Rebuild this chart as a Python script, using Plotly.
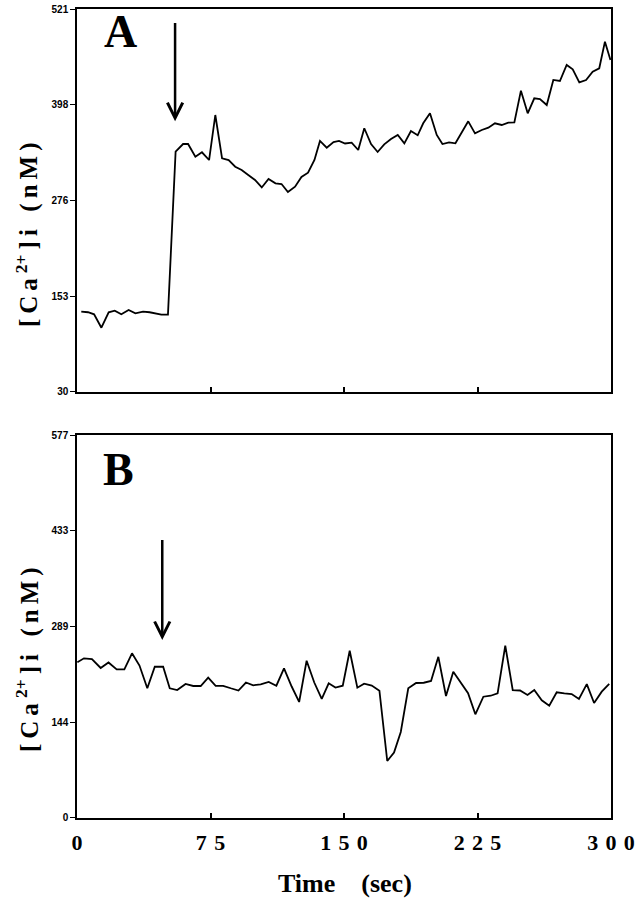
import plotly.graph_objects as go
from plotly.subplots import make_subplots

# ---------------- data ----------------
time_a = [2.4, 6.2, 9.6, 13.7, 17.8, 21.2, 24.9, 29.0, 32.8, 37.1, 40.8, 44.6, 47.4, 51.1,
          55.4, 59.6, 62.4, 66.5, 70.2, 74.2, 77.7, 81.5, 85.2, 88.9, 92.5, 96.2, 100.0,
          103.8, 107.6, 111.5, 114.9, 118.5, 122.5, 126.1, 129.8, 133.4, 136.5, 140.3,
          144.1, 147.2, 150.6, 154.3, 158.0, 161.4, 165.2, 168.9, 172.6, 176.4, 180.2,
          183.9, 187.6, 191.4, 194.5, 198.3, 202.1, 205.3, 209.0, 212.6, 216.1, 219.8,
          223.6, 227.4, 231.1, 234.8, 238.6, 242.3, 245.7, 249.4, 253.2, 256.9, 260.1,
          263.9, 267.6, 271.3, 275.1, 278.5, 282.2, 286.0, 289.7, 293.4, 296.6, 299.7]
ca_a = [132.9, 132.2, 129.6, 112.4, 132.2, 134.2, 129.6, 135.1, 130.9, 132.9, 132.2, 130.4,
        129.1, 129.1, 338.1, 347.9, 347.9, 331.6, 337.3, 327.4, 385.1, 329.6, 327.4, 318.8,
        314.6, 308.2, 301.8, 292.2, 303.1, 297.5, 296.6, 286.4, 293.2, 305.6, 311.1, 327.4,
        351.8, 343.2, 350.5, 351.8, 348.6, 349.6, 340.2, 368.1, 347.9, 337.7, 347.5, 354.3,
        359.5, 348.8, 364.6, 359.1, 374.5, 387.3, 359.5, 347.9, 349.9, 348.8, 362.9, 377.0,
        361.6, 365.9, 368.8, 374.5, 372.3, 375.2, 375.7, 416.3, 387.3, 406.5, 405.6, 397.9,
        430.0, 428.7, 449.2, 443.7, 427.0, 430.0, 440.6, 445.0, 479.1, 455.6]

time_b = [0.2, 3.9, 8.4, 13.3, 17.7, 22.3, 26.6, 30.9, 35.1, 39.5, 43.7, 48.4, 52.1, 56.3,
          61.0, 65.3, 69.5, 73.7, 77.9, 82.1, 86.4, 90.7, 94.9, 99.0, 103.2, 107.7, 112.0,
          116.3, 120.6, 124.8, 129.0, 133.3, 137.5, 141.4, 145.2, 149.3, 153.2, 157.5,
          161.3, 165.6, 169.9, 174.3, 178.1, 181.9, 186.1, 190.5, 194.8, 198.9, 203.0,
          207.3, 211.4, 215.3, 219.7, 223.8, 228.3, 232.4, 236.3, 240.6, 244.8, 248.9,
          253.1, 256.9, 261.1, 265.3, 269.5, 273.8, 277.9, 282.0, 286.4, 290.5, 294.8, 299.0]
ca_b = [234.6, 240.6, 239.5, 226.0, 234.3, 224.0, 224.0, 248.1, 229.7, 195.4, 227.9, 227.9,
        195.4, 192.8, 201.9, 198.9, 198.9, 211.4, 199.2, 199.2, 195.5, 192.1, 204.1, 199.9,
        201.4, 204.9, 199.3, 225.5, 198.1, 174.8, 237.0, 204.1, 179.3, 202.9, 196.6, 199.3,
        252.0, 196.3, 202.3, 199.6, 191.8, 85.9, 98.7, 129.6, 195.4, 203.4, 203.8, 206.4,
        242.8, 183.8, 220.4, 205.3, 187.9, 156.2, 182.7, 184.2, 187.9, 259.6, 192.8, 192.1,
        185.3, 192.8, 177.3, 169.2, 189.4, 187.9, 186.8, 179.3, 201.6, 173.2, 190.3, 201.9]

x_tickvals = [0, 75, 150, 225, 300]
x_ticktext = ["0", "7 5", "1 5 0", "2 2 5", "3 0 0"]
y_ticks_a = [30, 153, 276, 398, 521]
y_ticks_b = [0, 144, 289, 433, 577]

# arrow annotations (time, tail value, tip value)
arrow_a = (55.1, 505, 377)
arrow_b = (47.9, 421, 268)

# ---------------- figure ----------------
fig = make_subplots(rows=2, cols=1, shared_xaxes=False, vertical_spacing=0.05)

fig.add_trace(go.Scatter(x=time_a, y=ca_a, mode="lines",
                         line=dict(color="black", width=1.8), showlegend=False), row=1, col=1)
fig.add_trace(go.Scatter(x=time_b, y=ca_b, mode="lines",
                         line=dict(color="black", width=1.8), showlegend=False), row=2, col=1)

serif = "Liberation Serif, Times New Roman, serif"
ytick_font = dict(family="Liberation Sans, Arial, sans-serif", size=10, color="black")
xtick_font = dict(family=serif, size=22, color="black")

common_x = dict(range=[0, 300], tickvals=x_tickvals, showline=True, linecolor="black",
                linewidth=1.5, mirror=True, ticks="inside", ticklen=5, tickcolor="black",
                tickwidth=1.5, showgrid=False, zeroline=False, automargin=False)
fig.update_xaxes(**common_x, showticklabels=False, row=1, col=1)
sp = "\u2004"
fig.update_xaxes(**common_x,
                 ticktext=["<b>" + t.replace(" ", sp) + "</b>" for t in x_ticktext],
                 tickfont=xtick_font, ticklabelstandoff=4, row=2, col=1)

common_y = dict(showline=True, linecolor="black", linewidth=1.5, mirror=True,
                ticks="outside", ticklen=5, tickcolor="black", tickwidth=1.2,
                showgrid=False, zeroline=False, tickfont=ytick_font, automargin=False)
fig.update_yaxes(**common_y, range=[30, 521], tickvals=y_ticks_a,
                 ticktext=[f"<b>{v}</b>" for v in y_ticks_a], row=1, col=1)
fig.update_yaxes(**common_y, range=[0, 577], tickvals=y_ticks_b,
                 ticktext=[f"<b>{v}</b>" for v in y_ticks_b], row=2, col=1)

# exact domains to match the reference layout
fig.update_layout(
    xaxis=dict(domain=[0, 1]), xaxis2=dict(domain=[0, 1]),
    yaxis=dict(domain=[0.5266, 1.0]), yaxis2=dict(domain=[0.0, 0.4734]),
)

ann = []
# arrows
for (t, tail, tip), xr, yr in [(arrow_a, "x", "y"), (arrow_b, "x2", "y2")]:
    ann.append(dict(x=t, y=tip, ax=t, ay=tail, xref=xr, yref=yr, axref=xr, ayref=yr,
                    showarrow=True, arrowhead=5, arrowsize=1.2, arrowwidth=2.5,
                    arrowcolor="black", text=""))
# panel letters
ann.append(dict(x=0.0815, y=0.9722, xref="paper", yref="paper", text="<b>A</b>",
                xanchor="center", yanchor="middle",
                showarrow=False, font=dict(family=serif, size=46, color="black")))
ann.append(dict(x=0.0768, y=0.4308, xref="paper", yref="paper", text="<b>B</b>",
                xanchor="center", yanchor="middle",
                showarrow=False, font=dict(family=serif, size=46, color="black")))
# y titles (letter-spaced like the reference)
ts = "\u2009"
ytitle = "<b>[" + ts + "C" + ts + "a" + ts + "<sup>2+</sup>" + ts + "]" + ts + "i" \
         + ts + "  " + "(" + ts + "n" + ts + "M" + ts + ")</b>"
ann.append(dict(x=-0.0936, y=0.7206, xref="paper", yref="paper", text=ytitle,
                textangle=-90, showarrow=False, xanchor="center", yanchor="middle",
                font=dict(family=serif, size=25, color="black")))
ann.append(dict(x=-0.0936, y=0.1953, xref="paper", yref="paper", text=ytitle,
                textangle=-90, showarrow=False, xanchor="center", yanchor="middle",
                font=dict(family=serif, size=25, color="black")))
# x title
ann.append(dict(x=0.502, y=-0.0815, xref="paper", yref="paper",
                text="<b>Time    (sec)</b>", showarrow=False, xanchor="center",
                yanchor="middle", font=dict(family=serif, size=26, color="black")))

fig.update_layout(
    width=636, height=899,
    margin=dict(l=77, r=25, t=9, b=81, autoexpand=False),
    paper_bgcolor="white", plot_bgcolor="white",
    annotations=ann, showlegend=False,
)

fig.write_html("out.html", config={"displayModeBar": False},
               post_script="document.body.style.margin='0px';")
